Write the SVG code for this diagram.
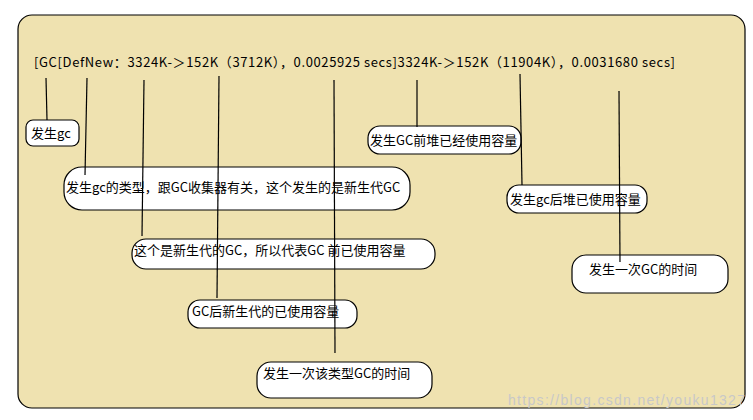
<svg xmlns="http://www.w3.org/2000/svg" width="753" height="420" viewBox="0 0 753 420">
<style>
text{font-family:"Noto Sans CJK SC","Liberation Sans",sans-serif;font-size:13px;fill:#000}
.b{fill:#fff;stroke:#000;stroke-width:1.2}
.c line{stroke:#000;stroke-width:1.2}
</style>
<rect width="753" height="420" fill="#fff"/>
<rect x="18" y="15" width="727" height="393" rx="14" fill="#efe2b0" stroke="#000" stroke-width="1.2"/>
<text x="34" y="67" textLength="641" lengthAdjust="spacing">[GC[DefNew：3324K-＞152K（3712K），0.0025925 secs]3324K-＞152K（11904K），0.0031680 secs]</text>
<g id="n1"><rect class="b" x="26" y="120" width="53" height="26" rx="7"/><text x="31" y="138">发生gc</text></g>
<g id="n2"><rect class="b" x="64" y="167" width="346" height="43" rx="18"/><text x="66" y="192">发生gc的类型，跟GC收集器有关，这个发生的是新生代GC</text></g>
<g id="n3"><rect class="b" x="132" y="239" width="303" height="30" rx="14"/><text x="134" y="255">这个是新生代的GC，所以代表GC 前已使用容量</text></g>
<g id="n4"><rect class="b" x="188" y="300" width="169" height="28" rx="12"/><text x="192" y="316">GC后新生代的已使用容量</text></g>
<g id="n5"><rect class="b" x="257" y="362" width="175" height="36" rx="14"/><text x="263" y="378">发生一次该类型GC的时间</text></g>
<g id="n6"><rect class="b" x="368" y="126" width="153" height="28" rx="12"/><text x="370" y="145">发生GC前堆已经使用容量</text></g>
<g id="n7"><rect class="b" x="507" y="185" width="140" height="28" rx="12"/><text x="510" y="204">发生gc后堆已使用容量</text></g>
<g id="n8"><rect class="b" x="572" y="255" width="156" height="38" rx="14"/><text x="589" y="274">发生一次GC的时间</text></g>
<g class="c" id="connectors">
<line x1="46" y1="78" x2="47" y2="120"/>
<line x1="87" y1="78" x2="85" y2="175"/>
<line x1="144" y1="80" x2="142" y2="236"/>
<line x1="219" y1="76" x2="217" y2="298"/>
<line x1="334" y1="80" x2="335" y2="353"/>
<line x1="417" y1="80" x2="417" y2="127"/>
<line x1="520" y1="74" x2="522" y2="185"/>
<line x1="619" y1="91" x2="620" y2="262"/>
</g>
<text x="508" y="405" textLength="237" style="fill:#c8c8c8;font-family:'Liberation Sans',sans-serif;font-size:14px">https://blog.csdn.net/youku1327</text>
</svg>
